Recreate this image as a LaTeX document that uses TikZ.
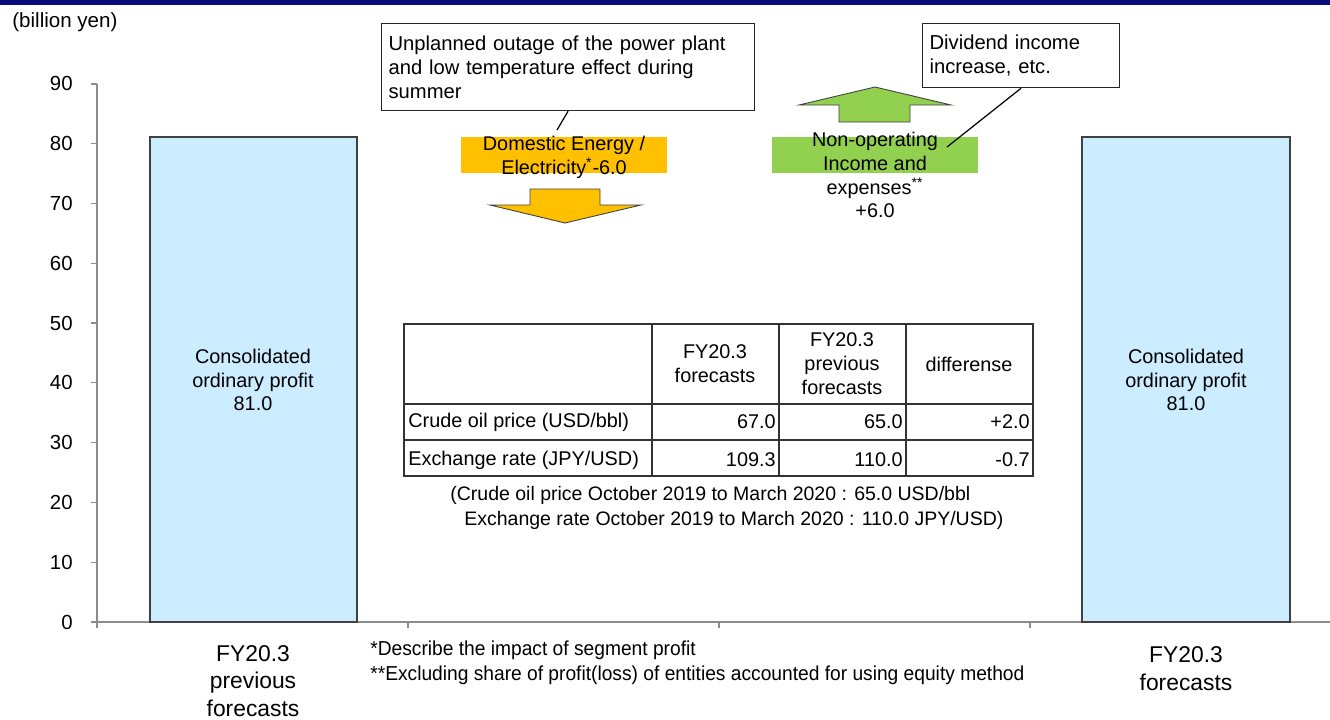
\documentclass[tikz,border=0pt]{standalone}
\usepackage{fontspec}
\setmainfont{Liberation Sans}
\newfontfamily\notefont[FakeStretch=0.95]{Liberation Sans}
\usepackage{xcolor}
\usepackage{tikz}
\usetikzlibrary{positioning, arrows.meta, calc}
\definecolor{navybar}{HTML}{0B0B7E}
\definecolor{barblue}{HTML}{CCECFF}
\definecolor{energyorange}{HTML}{FFC000}
\definecolor{incomegreen}{HTML}{92D050}
\definecolor{axisgray}{HTML}{8C8C8C}
\definecolor{edgegray}{HTML}{404040}

\tikzset{
  txt/.style={font=\fontsize{11.3}{13.6}\selectfont, inner sep=0pt, align=center},
  cattxt/.style={font=\fontsize{13}{15.8}\selectfont, inner sep=0pt, align=center},
  axisline/.style={draw=axisgray, line width=0.7pt},
  profitbar/.style={fill=barblue, draw=edgegray, line width=0.8pt},
  callout/.style={draw=black!85, fill=white, line width=0.7pt, inner sep=0pt,
    anchor=north west, align=left, font=\fontsize{11.5}{13.6}\selectfont},
  blockarrow/.style={draw=black!75, line width=0.5pt, line join=miter},
  tabline/.style={draw=black!80, line width=0.6pt}
}

\begin{document}
\begin{tikzpicture}[x=0.02cm, y=-0.02cm]
  \useasboundingbox (0,0) rectangle (1330,720);
  \fill[navybar] (0,0) rectangle (1330,5);

  \node[txt, anchor=west, font=\fontsize{11.7}{13.6}\selectfont] (unit) at (12,22) {(billion yen)};

  % axes
  \draw[axisline] (97,84) -- (97,628);
  \draw[axisline] (97,622) -- (1330,622);
  \foreach \v in {0,...,9}{
    \pgfmathtruncatemacro{\lab}{10*\v}
    \draw[axisline] (91,{622-59.78*\v}) -- (97,{622-59.78*\v});
    \node[txt, anchor=east, font=\fontsize{11.6}{13.6}\selectfont] (ylab\v) at (73,{622-59.78*\v}) {\lab};
  }
  \foreach \x in {408,719,1030}
    \draw[axisline] (\x,622) -- (\x,628);

  % bars
  \draw[profitbar] (150,137) rectangle (357,622);
  \draw[profitbar] (1082,137) rectangle (1290,622);
  \node[txt] (prevval) at (253,380) {Consolidated\\ordinary profit\\81.0};
  \node[txt] (curval) at (1186,380) {Consolidated\\ordinary profit\\81.0};
  \node[cattxt] (prevcat) at (253,681) {FY20.3\\previous\\forecasts};
  \node[cattxt] (curcat) at (1186,669) {FY20.3\\forecasts};

  % domestic energy
  \node[fill=energyorange, inner sep=0pt, minimum width=4.12cm, minimum height=0.72cm]
    (energyrect) at (564,155) {};
  \node[txt] (energy) at (564,157) {Domestic Energy /\\Electricity\textsuperscript{*}-6.0};
  \draw[blockarrow, fill=energyorange] (530,189) -- (600,189) -- (600,205) -- (641,205)
    -- (565,223) -- (490,205) -- (530,205) -- cycle;
  \node[callout, minimum width=7.46cm, minimum height=1.74cm, text width=7.18cm,
        inner xsep=0.14cm] (outage) at (381,23)
    {Unplanned outage of the power plant\\and low temperature effect during\\summer};
  \coordinate (energytip) at (557,130);
  \draw[line width=0.7pt] (outage.south) -- (energytip);

  % non-operating
  \node[fill=incomegreen, inner sep=0pt, minimum width=4.12cm, minimum height=0.72cm]
    (incomerect) at (875,155) {};
  \node[txt] (income) at (875,175) {Non-operating\\Income and\\expenses\textsuperscript{**}\\+6.0};
  \draw[blockarrow, fill=incomegreen] (839,122) -- (910,122) -- (910,105) -- (951,105)
    -- (875,87) -- (799,105) -- (839,105) -- cycle;
  \node[callout, minimum width=3.94cm, minimum height=1.28cm, text width=3.66cm,
        inner xsep=0.14cm] (dividend) at (922,23) {Dividend income\\increase, etc.};
  \coordinate (incometip) at (947,147);
  \draw[line width=0.7pt] (dividend.south) -- (incometip);

  % table
  \draw[tabline] (404,324) rectangle (1033,476);
  \foreach \x in {652,779,906}
    \draw[tabline] (\x,324) -- (\x,476);
  \foreach \y in {404,440}
    \draw[tabline] (404,\y) -- (1033,\y);
  \node[txt] (hfc) at (715,364) {FY20.3\\forecasts};
  \node[txt] (hprev) at (842,364) {FY20.3\\previous\\forecasts};
  \node[txt] (hdiff) at (969,364) {differense};
  \node[txt, anchor=west] (oil) at (408,422) {Crude oil price (USD/bbl)};
  \node[txt, anchor=west] (fx) at (408,460) {Exchange rate (JPY/USD)};
  \foreach \y/\a/\b/\c in {422/67.0/65.0/+2.0, 460/109.3/110.0/-0.7}{
    \node[txt, anchor=east] at (776,\y) {\a};
    \node[txt, anchor=east] at (903,\y) {\b};
    \node[txt, anchor=east] at (1030,\y) {\c};
  }
  \node[txt, align=left, anchor=north west, font=\fontsize{11.1}{14.2}\selectfont]
    (premise) at (450,486)
    {(Crude oil price October 2019 to March 2020 : 65.0 USD/bbl\\
     \hspace*{0.28cm}Exchange rate October 2019 to March 2020 : 110.0 JPY/USD)};

  % notes
  \node[inner sep=0pt, align=left, anchor=north west, font=\notefont\fontsize{11.5}{14.2}\selectfont]
    (notes) at (370,641)
    {*Describe the impact of segment profit\\
     **Excluding share of profit(loss) of entities accounted for using equity method};
\end{tikzpicture}
\end{document}
